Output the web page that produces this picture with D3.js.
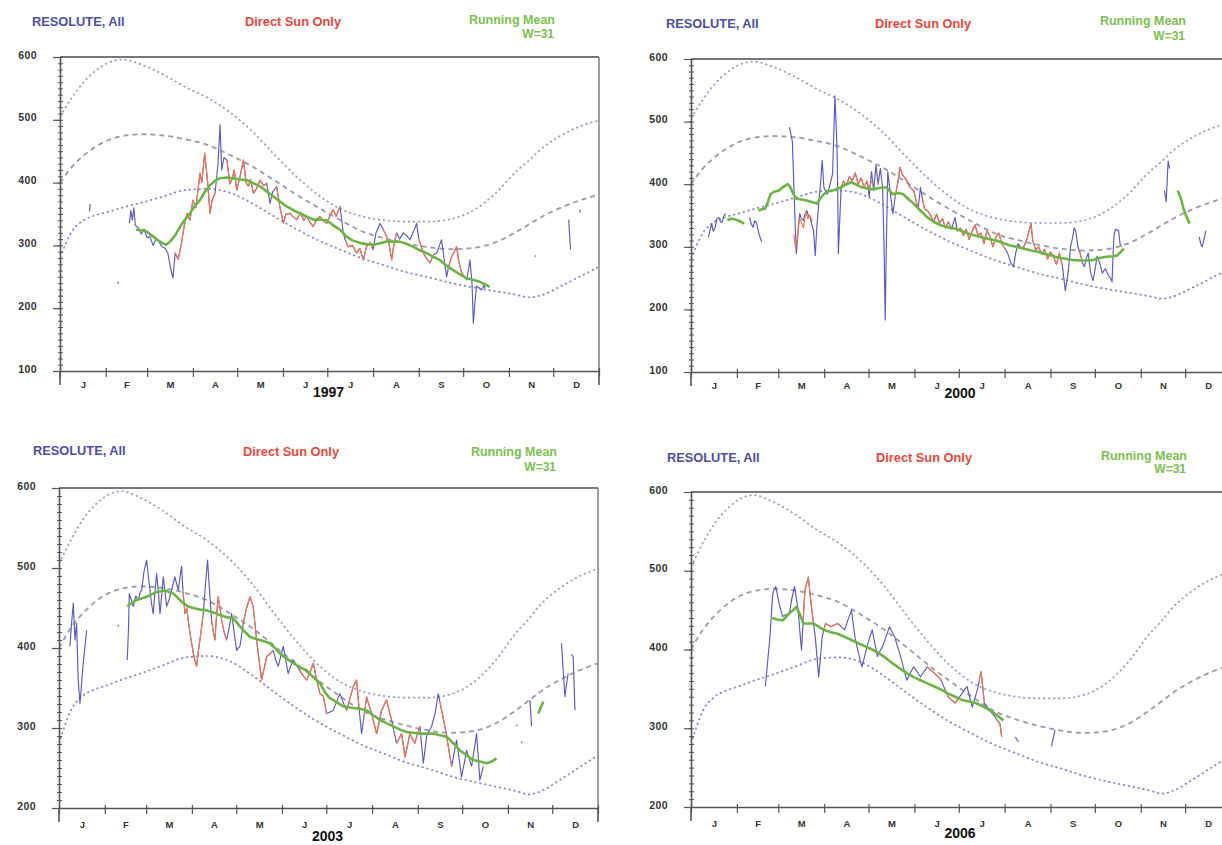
<!DOCTYPE html>
<html><head><meta charset="utf-8">
<script src="https://cdn.jsdelivr.net/npm/d3@7"></script>
<style>
html,body{margin:0;padding:0;background:#fff;}
svg{display:block;font-family:"Liberation Sans",Arial,sans-serif;}
</style></head>
<body>
<svg id="chart" width="1222" height="845"></svg>
<script>
// ---------- DATA ----------
const monthLabels = ["J","F","M","A","M","J","J","A","S","O","N","D"];
const monthStarts = [0,31,59,90,120,151,181,212,243,273,304,334,365];
const yearLabels = ["1997","2000","2003","2006"];
const legendAll = "RESOLUTE, All";
const legendSun = "Direct Sun Only";
const legendMean = ["Running Mean","W=31"];

// climatological envelope (day of year -> total ozone, DU)
const climDays = [0,8,16,24,32,42,55,70,85,100,115,130,145,160,175,190,205,220,235,250,265,280,295,310,318,325,340,355,365];
const climMax  = [505,535,560,578,590,596,588,572,552,535,512,482,445,410,380,358,346,340,338,338,342,356,383,420,436,452,476,492,499];
const climMean = [400,425,443,457,467,474,477,475,469,460,444,426,404,381,360,340,322,311,303,297,294,296,305,323,334,344,361,374,381];
const climMin  = [280,322,340,348,353,360,368,378,388,390,384,367,346,326,308,293,279,268,257,249,240,233,227,221,217,220,236,254,266];

// 1997
const all1997 = [[20,354],[20.5,366],null,[39,239],[39.6,242],null,
[47,335],[48,356],[49,340],[50,360],[51,332],[53,328],[55,318],[57,326],[59,312],[61,314],[63,300],[65,310],[67,306],[69,298],[71,296],[73,288],[75,262],[76.5,248],[78,288],[80,278],[82,300],[84,330],[86,351],[88,340],[90,372],[92,360],[94.8,415],[96,400],[98,447],[100,400],[101.6,351],[103,372],[105,383],[107,430],[108.4,492],[109.5,420],[111,440],[113,436],[115,398],[116.3,404],[118,420],[119.7,388],[122,410],[124.2,436],[126,400],[127.6,394],[129,405],[131,383],[133,390],[135.5,404],[138,395],[140,399],[142.2,367],[144,385],[146.7,394],[149,360],[151.3,335],[153,350],[155.8,351],[158,345],[160.3,341],[163,352],[165,340],[167,346],[169,338],[171.5,330],[174,342],[176,346],[178,340],[180.6,335],[183,348],[185,357],[187,346],[189.6,362],[191.9,319],[193,310],[195.2,298],[198,300],[200.9,288],[203,295],[205.4,277],[207.6,298],[210,305],[212,293],[214,320],[216.7,335],[219,325],[221.2,314],[223,300],[224.6,277],[226,300],[228,320],[230,310],[232.5,320],[235,315],[237,309],[239,320],[241.5,335],[243,310],[246,288],[248,280],[250.5,272],[253,285],[255,288],[257,300],[258.4,309],[260,280],[261.8,250],[263,265],[265.2,282],[267,290],[268.6,298],[270,275],[272,256],[274,250],[275.4,245],[276.5,260],[277.6,277],[279,240],[279.9,176],[281,210],[282.1,235],[284,232],[285.5,229],[287,236],[288,232],null,
[321.6,282],[322.1,284],null,[344.5,341],[345,320],[345.8,293],null,[352,357],[352.4,352]];
const sun1997 = [[78,288],[80,278],[82,300],[84,330],[86,351],[88,340],[90,372],[92,360],[94.8,415],[96,400],[98,447],[100,400],[101.6,351],[103,372],[105,383],null,
[113,436],[115,398],[116.3,404],[118,420],[119.7,388],[122,410],[124.2,436],[126,400],[127.6,394],[129,405],[131,383],[133,390],[135.5,404],[138,395],[140,399],null,
[146.7,394],[149,360],[151.3,335],[153,350],[155.8,351],[158,345],[160.3,341],[163,352],[165,340],[167,346],[169,338],[171.5,330],[174,342],[176,346],[178,340],[180.6,335],[183,348],[185,357],[187,346],[189.6,362],null,
[193,310],[195.2,298],[198,300],[200.9,288],[203,295],[205.4,277],[207.6,298],[210,305],[212,293],null,
[219,325],[221.2,314],[223,300],[224.6,277],[226,300],[228,320],null,
[243,310],[246,288],[248,280],[250.5,272],[253,285],null,
[263,265],[265.2,282],[267,290],[268.6,298],[270,275],[272,256],[274,250]];
const mean1997 = [[51.5,325],[55,324],[58.7,322],[63.2,314],[67,307],[70,303],[72,301],[74.5,306],[78,316],[81.3,330],[85,342],[88,351],[91,362],[94.8,372],[98,385],[101.6,396],[105,403],[108.4,407],[113,408],[117.4,407],[122,405],[126.4,404],[131,399],[135.5,394],[140,386],[144.5,378],[149,370],[153.5,362],[158,356],[162.5,351],[167,346],[171.6,341],[176,341],[180.6,340],[185,332],[189.6,325],[194,314],[198,308],[203,304],[207,302],[212,301],[216,303],[221,306],[225,306],[230,306],[234,303],[239,298],[243,293],[248,288],[252,283],[257,277],[261,269],[266,261],[270,255],[275,248],[280,245],[284.4,242],[288,238],[291,234]];

// 2000
const all2000 = [[11.7,315],[13,328],[14,337],[15,325],[16.4,331],[17.5,345],[18.7,347],[20,340],[21,339],[22,348],[23.4,353],null,
[39.7,347],[40.5,338],[42,331],[43,342],[44.4,337],[46,320],[47.9,307],null,
[66.5,491],[67.5,480],[68.5,469],[69.5,400],[70.5,330],[71.2,289],[72.3,320],[73.5,353],[74.5,345],[75.9,342],[77,352],[78.2,358],[79.3,350],[80.5,347],[81.7,335],[82.8,326],[84,286],[85,330],[86.3,368],[87.5,400],[88.7,438],[89.8,395],[91,390],[92.2,384],[94,400],[95.7,416],[96.5,480],[97.3,541],[98,500],[98.7,459],[99.2,380],[99.6,289],[100.5,340],[101.5,395],[103,405],[105,398],[107,412],[109,405],[111,418],[113,400],[115,410],[117,395],[119,405],[120.5,380],[122,420],[123.5,390],[125,430],[126.5,400],[128,425],[129.5,395],[130.5,300],[131.3,183],[132,300],[133,420],[134.5,390],[136.5,353],[138,380],[140,405],[141.2,427],[143,415],[145.8,406],[148,395],[150.5,390],[152,375],[153.5,360],[155.1,395],[156.5,375],[158,360],[159.8,358],[162,350],[164,340],[166,352],[168,338],[170,345],[172,330],[174,340],[176,328],[178.5,347],[180,325],[182,330],[184,318],[186,328],[188,312],[190,325],[192,335],[194,318],[196,322],[198,305],[200,325],[202,318],[204,300],[206,315],[208,322],[210,305],[212,298],[214,290],[216,275],[218,268],[219.5,290],[221,305],[223,298],[225,300],[227,312],[228.5,325],[229.8,337],[231,310],[233,295],[235,300],[237,288],[239,296],[241,280],[243,292],[245,285],[247,272],[249,290],[251,270],[253,230],[255,260],[256.5,300],[258,315],[259,330],[260,326],[261.5,300],[263,290],[264.5,275],[265.9,268],[267,280],[268.5,290],[270,260],[271.7,246],[273,262],[274.5,285],[276.4,273],[278,258],[280,265],[282,255],[283.5,250],[284.6,244],[285.5,300],[286,320],[287,328],[289,326],[290,305],[291,300],null,
[320,390],[321.2,372],[322.5,437],[323.5,425],null,
[343.5,316],[344.5,305],[345.5,300],[346.7,312],[348,326]];
const sun2000 = [[69.5,320],[70.5,300],[71.5,305],[73,345],[74.5,340],[76,330],[77.5,355],[79,345],[80.5,350],[82,340],null,
[101.5,395],[103,405],[105,398],[107,412],[109,405],[111,418],[113,400],[115,410],[117,395],[119,405],[120.5,392],[122,405],null,
[138,380],[140,405],[141.2,427],[143,415],[145.8,406],[148,395],[150.5,390],[152,375],[153.5,360],null,
[156.5,375],[158,360],[159.8,358],[162,350],[164,340],[166,352],[168,338],[170,345],[172,330],[174,340],[176,328],null,
[180,325],[182,330],[184,318],[186,328],[188,312],[190,325],[192,335],[194,318],[196,322],[198,305],[200,325],[202,318],[204,300],[206,315],[208,322],[210,305],[212,298],null,
[223,298],[225,300],[227,312],[228.5,325],[229.8,337],[231,310],[233,295],[235,300],[237,288],[239,296],[241,280],[243,292],[245,285],[247,272],[249,290],[251,270],null,
[262,292],[263,290],[264.5,275]];
const mean2000 = [[24.5,343],[28,345],[32,342],[36,337],null,[45.5,358],[48,360],[50.2,361],[52,372],[53.7,384],[56,388],[59.5,390],[62,395],[65.4,400],[67,396],[69,385],[71.2,377],[74,376],[78.2,374],[81,372],[85.2,369],[87,376],[89.8,384],[92,388],[95.7,390],[98,392],[101.5,395],[105,400],[108.5,403],[112,399],[115.5,395],[119,393],[122.5,392],[127,394],[131.8,395],[134,390],[136.5,384],[140,386],[143.5,384],[147,376],[150.5,369],[155,358],[159.8,347],[164,340],[169.1,334],[174,331],[178.5,329],[183,325],[187.8,321],[192,318],[197.1,315],[202,312],[206.4,310],[211,306],[215.8,302],[220,300],[225.1,297],[230,294],[234.4,292],[239,289],[243.8,286],[248,283],[253.1,281],[258,279],[262.4,278],[267,278],[271.7,279],[276,282],[281,284],[285,285],[288,286],[290.5,292],[292.7,297],null,
[329,390],[331,378],[333,360],[335,348],[337,337]];

// 2003
const all2003 = [[7.4,402],[8.5,430],[9.7,456],[10.8,410],[11.9,431],[13,360],[14.2,331],[15.3,355],[16.4,381],[17.5,400],[18.7,422],null,
[40,427],[40.4,429],null,
[46.2,385],[47,420],[47.6,468],[49,460],[50.3,452],[52,465],[53.7,460],[55,470],[56,472],[57.5,495],[59.3,510],[60.5,490],[61.6,472],[62.7,455],[63.8,443],[65,470],[66.1,493],[67.3,470],[68.4,443],[69.5,465],[70.6,489],[71.8,470],[72.9,452],[74.5,460],[76.2,472],[77.3,480],[78.5,489],[79.7,480],[80.8,472],[82,490],[83,502],[84,470],[85.3,443],[86.5,450],[87.5,435],[89,415],[91,393],[92,385],[93.2,377],[94.3,395],[95.4,410],[96.5,425],[97.7,443],[99,475],[100.6,510],[102,470],[103.3,435],[104.5,420],[105.6,410],[106.7,440],[107.8,464],[109,450],[110.1,435],[111.8,420],[113.5,410],[115.2,425],[116.9,443],[118.6,420],[120.3,397],[121.4,400],[122.5,402],[123.6,415],[124.8,431],[127,450],[129.3,464],[130.4,458],[131.5,452],[132.7,430],[133.8,410],[135.5,385],[137.2,360],[139,375],[140.6,389],[143,393],[145.1,397],[146.8,385],[148.5,377],[150.2,390],[151.9,402],[153.5,385],[155.2,368],[157,378],[158.6,385],[161,378],[163.1,372],[165.4,365],[167.7,360],[170,370],[172.2,381],[174.5,360],[176.7,343],[179,340],[181.2,318],[183.5,320],[185.7,322],[188,333],[190.2,343],[192.5,332],[194.8,322],[197,337],[199.3,352],[201.5,360],[203.2,325],[204.9,293],[206.6,315],[208.3,339],[210,328],[211.7,318],[213.4,305],[215.1,293],[216.8,308],[218.5,322],[220,328],[221.8,335],[223.5,322],[225.2,310],[226.9,295],[228.6,281],[230.3,287],[232,293],[233.2,278],[234.3,264],[236,278],[237.6,293],[239.3,287],[241,281],[242.7,292],[244.4,302],[245.5,280],[246.7,256],[247.8,272],[248.9,289],[250.6,296],[252.3,302],[253.5,310],[254.6,318],[255.7,330],[256.8,343],[258,332],[259.1,322],[260.2,312],[261.3,302],[262.5,290],[263.6,277],[264.7,265],[265.9,252],[267.5,268],[269.2,285],[270.9,262],[272.6,239],[274.3,255],[276,272],[277.7,262],[279.4,252],[281.1,272],[282.8,293],[283.9,264],[285,235],[286.1,243],[287.3,252],null,
[309.9,302],[310.3,304],null,[313.2,281],[313.6,283],null,[318.9,335],[319.5,318],[320,302],null,
[340.3,406],[341.5,370],[342.6,339],[343.7,355],[344.8,368],null,[347,392],[348.2,389],[349.4,322]];
const sun2003 = [[84,470],[85.3,443],[86.5,450],[87.5,435],[89,415],[91,393],[92,385],[93.2,377],[94.3,395],[95.4,410],[96.5,425],[97.7,443],null,
[103.3,435],[104.5,420],[105.6,410],[106.7,440],[107.8,464],[109,450],[110.1,435],[111.8,420],[113.5,410],null,
[124.8,431],[127,450],[129.3,464],[130.4,458],[131.5,452],[132.7,430],[133.8,410],[135.5,385],[137.2,360],[139,375],[140.6,389],[143,393],[145.1,397],null,
[163.1,372],[165.4,365],[167.7,360],[170,370],[172.2,381],[174.5,360],[176.7,343],[179,340],[181.2,318],null,
[194.8,322],[197,337],[199.3,352],[201.5,360],[203.2,325],null,
[206.6,315],[208.3,339],[210,328],[211.7,318],[213.4,305],[215.1,293],[216.8,308],[218.5,322],[220,328],[221.8,335],[223.5,322],[225.2,310],null,
[228.6,281],[230.3,287],[232,293],[233.2,278],[234.3,264],[236,278],[237.6,293],[239.3,287],[241,281],[242.7,292],[244.4,302],null,
[258,332],[259.1,322],[260.2,312],[261.3,302],[262.5,290],[263.6,277],[264.7,265],[265.9,252]];
const mean2003 = [[46.2,452],[49,456],[52.5,460],[56,462],[59.3,464],[62.7,467],[66.1,470],[69,471],[71.7,472],[74.5,470],[77.4,468],[80.8,462],[84.1,456],[87.5,452],[91,450],[95.5,448],[100,447],[103.3,445],[106.7,443],[109.5,441],[112.4,439],[115.2,438],[118,437],[120.3,432],[122.5,427],[126,420],[129.3,414],[132.7,412],[136,410],[139.4,408],[142.8,406],[146.2,400],[149.6,393],[154,387],[158.6,381],[163,376],[167.7,372],[172,364],[176.7,356],[180,345],[183,338],[185.7,335],[189,331],[192.5,327],[196,326],[199.3,325],[203.8,324],[208.3,322],[212.8,316],[217.3,310],[221.8,306],[226.4,302],[230.9,298],[235.4,295],[239.9,294],[244.4,293],[248.9,293],[253.4,293],[258,291],[262.5,289],[267,281],[271.5,272],[276,266],[280.5,260],[285,258],[289.5,256],[293,258],[296.3,262],null,
[324.5,318],[326.3,326],[328,333]];

// 2006
const all2006 = [[50.2,353],[51.2,372],[52.1,391],[53,408],[53.7,425],[54.5,450],[55.3,471],[56.2,476],[57.2,480],[58.4,470],[59.5,459],[60.7,450],[61.9,442],[64,444],[66.5,446],[68.2,465],[70,480],[71.2,465],[72.4,450],[73.5,425],[74.7,399],[75.9,440],[77,475],[78.2,484],[79.3,492],[80.5,470],[81.7,450],[82.8,433],[84,416],[85.2,390],[86.3,365],[87.5,390],[88.7,416],[89.8,425],[91,433],[92.8,431],[94.5,429],[96.8,431],[99.2,433],[101.5,429],[103.8,425],[106,437],[108.5,450],[109.6,433],[110.8,416],[113,397],[115.5,378],[117.2,390],[119,404],[120.8,415],[122.5,425],[124.2,408],[126,391],[127.7,398],[129.5,404],[131.8,416],[134.2,429],[136,422],[137.7,416],[139.4,405],[141.1,395],[143.5,378],[145.8,361],[148.2,370],[150.5,378],[152.8,372],[155.1,365],[157.5,372],[159.8,378],[162.1,374],[164.5,370],[166.8,366],[169.1,361],[171.5,350],[173.8,340],[176.2,336],[178.5,332],[180.8,338],[183.1,344],[184.9,349],[186.6,353],[188.3,340],[190.1,327],[191.8,338],[193.6,349],[194.8,360],[196,372],[197.2,352],[198.3,332],[200,328],[201.8,323],[203.5,319],[205.3,315],[207,310],[208.8,306],[209.4,298],[210,289],null,
[219.3,289],[220.4,285],[221.6,283],null,[243.7,277],[244.9,288],[246.1,298]];
const sun2006 = [[75.9,440],[77,475],[78.2,484],[79.3,492],[80.5,470],[81.7,450],[82.8,433],null,
[89.8,425],[91,433],[92.8,431],[94.5,429],[96.8,431],[99.2,433],[101.5,429],null,
[159.8,378],[162.1,374],[164.5,370],[166.8,366],[169.1,361],null,
[171.5,350],[173.8,340],[176.2,336],[178.5,332],[180.8,338],null,
[194.8,360],[196,372],[197.2,352],[198.3,332],null,
[207,310],[208.8,306],[209.4,298],[210,289]];
const mean2006 = [[54.9,440],[58,438],[61.9,437],[64,441],[66.5,446],[69,450],[71.2,454],[73.5,445],[75.9,433],[79.3,433],[82.8,433],[86.3,429],[89.8,425],[94.5,422],[99.2,420],[103.8,416],[108.5,412],[113,408],[117.8,404],[122.5,400],[127.2,395],[131.8,389],[136.5,382],[141.1,376],[145.8,370],[150.5,365],[155.1,361],[159.8,357],[164.5,353],[169.1,349],[173.8,344],[178.5,340],[183.1,336],[187.8,334],[192.5,332],[197.1,328],[201.8,323],[206.4,317],[211.1,310]];

const yDomainTop = [100,600];
const yDomainBottom = [200,600];

// ---------- LAYOUT ----------
const panels = [
 {year:yearLabels[0], all:all1997, sun:sun1997, mean:mean1997, dom:yDomainTop,
  x0:60, x1:599, yTop:57, yBot:371, yearY:397, mPad:10,
  leg:{allX:32, allY:26, sunX:245, sunY:26, meanX:555, meanY:24, wY:38}},
 {year:yearLabels[1], all:all2000, sun:sun2000, mean:mean2000, dom:yDomainTop,
  x0:691, x1:1231, yTop:59, yBot:372, yearY:398, mPad:10,
  leg:{allX:666, allY:28, sunX:875, sunY:28, meanX:1186, meanY:25, wY:40}},
 {year:yearLabels[2], all:all2003, sun:sun2003, mean:mean2003, dom:yDomainBottom,
  x0:59, x1:598, yTop:488, yBot:808, yearY:841, mPad:13,
  leg:{allX:33, allY:455, sunX:243, sunY:456, meanX:557, meanY:456, wY:471}},
 {year:yearLabels[3], all:all2006, sun:sun2006, mean:mean2006, dom:yDomainBottom,
  x0:691, x1:1231, yTop:492, yBot:807, yearY:838, mPad:13,
  leg:{allX:667, allY:462, sunX:876, sunY:462, meanX:1187, meanY:460, wY:473}}
];

const svg = d3.select("#chart");
const defs = svg.append("defs");

panels.forEach((p, pi) => {
  const x = d3.scaleLinear().domain([0,365]).range([p.x0, p.x1]);
  const y = d3.scaleLinear().domain(p.dom).range([p.yBot, p.yTop]);
  const g = svg.append("g");

  defs.append("clipPath").attr("id","clip"+pi).append("rect")
    .attr("x", p.x0).attr("y", p.yTop).attr("width", p.x1-p.x0).attr("height", p.yBot-p.yTop);
  const plot = g.append("g").attr("clip-path","url(#clip"+pi+")");

  // envelope curves
  const env = d3.line().x((d,i)=>x(climDays[i])).y(d=>y(d)).curve(d3.curveMonotoneX);
  plot.append("path").attr("d", env(climMax)).attr("fill","none")
    .attr("stroke","#9d9dc4").attr("stroke-width",1.7).attr("stroke-dasharray","2.2,2.8");
  plot.append("path").attr("d", env(climMean)).attr("fill","none")
    .attr("stroke","#9a9aae").attr("stroke-width",1.8).attr("stroke-dasharray","5,4");
  plot.append("path").attr("d", env(climMin)).attr("fill","none")
    .attr("stroke","#8787cc").attr("stroke-width",1.7).attr("stroke-dasharray","2.2,2.8");

  const line = d3.line().defined(d=>d!=null).x(d=>x(d[0])).y(d=>y(d[1]));
  plot.append("path").attr("d", line(p.all)).attr("fill","none")
    .attr("stroke","#5a5ac0").attr("stroke-width",1.15).attr("stroke-linejoin","round");
  plot.append("path").attr("d", line(p.sun)).attr("fill","none")
    .attr("stroke","#f2784c").attr("stroke-width",1.15).attr("stroke-linejoin","round");
  plot.append("path").attr("d", line(p.mean)).attr("fill","none")
    .attr("stroke","#6db446").attr("stroke-width",2.6).attr("stroke-linejoin","round");

  // frame
  g.append("line").attr("x1",p.x0).attr("x2",p.x1).attr("y1",p.yTop).attr("y2",p.yTop)
    .attr("stroke","#777").attr("stroke-width",2);
  g.append("line").attr("x1",p.x1).attr("x2",p.x1).attr("y1",p.yTop).attr("y2",p.yBot)
    .attr("stroke","#888").attr("stroke-width",1.6);

  // y axis: labels + major ticks
  const yMaj = d3.range(p.dom[0], p.dom[1]+1, 100);
  const yMin = d3.range(p.dom[0], p.dom[1]+1, 10);
  const ya = g.append("g").attr("transform",`translate(${p.x0},0)`)
    .call(d3.axisLeft(y).tickValues(yMaj).tickSize(7).tickPadding(16).tickSizeOuter(0));
  ya.select(".domain").attr("stroke","#555").attr("stroke-width",1.6);
  ya.selectAll(".tick line").attr("stroke","#555").attr("stroke-width",1.2);
  ya.selectAll(".tick text").attr("font-size",10.5).attr("font-weight","bold")
    .attr("fill","#333").attr("dy","0.1em").attr("font-family","'Liberation Sans',Arial,sans-serif")
    .attr("letter-spacing","0.4");
  // minor ticks
  const ym1 = g.append("g").attr("transform",`translate(${p.x0},0)`)
    .call(d3.axisRight(y).tickValues(yMin).tickSize(3).tickFormat("").tickSizeOuter(0));
  ym1.select(".domain").remove();
  ym1.selectAll(".tick line").attr("stroke","#555").attr("stroke-width",1);
  const ym2 = g.append("g").attr("transform",`translate(${p.x0},0)`)
    .call(d3.axisLeft(y).tickValues(yMin).tickSize(2).tickFormat("").tickSizeOuter(0));
  ym2.select(".domain").remove();
  ym2.selectAll(".tick line").attr("stroke","#555").attr("stroke-width",1);

  // x axis ticks at month boundaries
  const xa = g.append("g").attr("transform",`translate(0,${p.yBot})`)
    .call(d3.axisBottom(x).tickValues(monthStarts).tickSize(6).tickFormat("").tickSizeOuter(0));
  xa.select(".domain").attr("stroke","#555").attr("stroke-width",1.6);
  xa.selectAll(".tick line").attr("stroke","#555").attr("stroke-width",1.2);
  const xUp = g.append("g").attr("transform",`translate(0,${p.yBot})`)
    .call(d3.axisTop(x).tickValues(monthStarts).tickSize(3).tickFormat("").tickSizeOuter(0));
  xUp.select(".domain").remove();
  xUp.selectAll(".tick line").attr("stroke","#555").attr("stroke-width",1.2);
  // longer end ticks
  [0,365].forEach(d => {
    g.append("line").attr("x1",x(d)).attr("x2",x(d)).attr("y1",p.yBot).attr("y2",p.yBot+14)
      .attr("stroke","#555").attr("stroke-width",1.6);
  });
  // month labels
  const mids = monthLabels.map((m,i)=>(monthStarts[i]+monthStarts[i+1])/2);
  const xl = g.append("g").attr("transform",`translate(0,${p.yBot})`)
    .call(d3.axisBottom(x).tickValues(mids).tickSize(0).tickPadding(p.mPad)
      .tickFormat((d,i)=>monthLabels[i]));
  xl.select(".domain").remove();
  xl.selectAll(".tick text").attr("font-size",9.5).attr("font-weight","bold").attr("fill","#333")
    .attr("font-family","'Liberation Sans',Arial,sans-serif");

  // year label
  g.append("text").attr("x",(p.x0+p.x1)/2 - 1).attr("y",p.yearY).attr("text-anchor","middle")
    .attr("font-size",14).attr("font-weight","bold").attr("fill","#111").text(p.year);

  // legend
  const L = p.leg;
  g.append("text").attr("x",L.allX).attr("y",L.allY).attr("font-size",12.8).attr("font-weight","bold")
    .attr("fill","#4d4fa6").text(legendAll);
  g.append("text").attr("x",L.sunX).attr("y",L.sunY).attr("font-size",12.8).attr("font-weight","bold")
    .attr("fill","#e8483c").text(legendSun);
  g.append("text").attr("x",L.meanX).attr("y",L.meanY).attr("text-anchor","end").attr("font-size",12.5)
    .attr("font-weight","bold").attr("fill","#7dc052").text(legendMean[0]);
  g.append("text").attr("x",L.meanX-1).attr("y",L.wY).attr("text-anchor","end").attr("font-size",12)
    .attr("font-weight","bold").attr("fill","#7dc052").text(legendMean[1]);
});
</script>
</body></html>
